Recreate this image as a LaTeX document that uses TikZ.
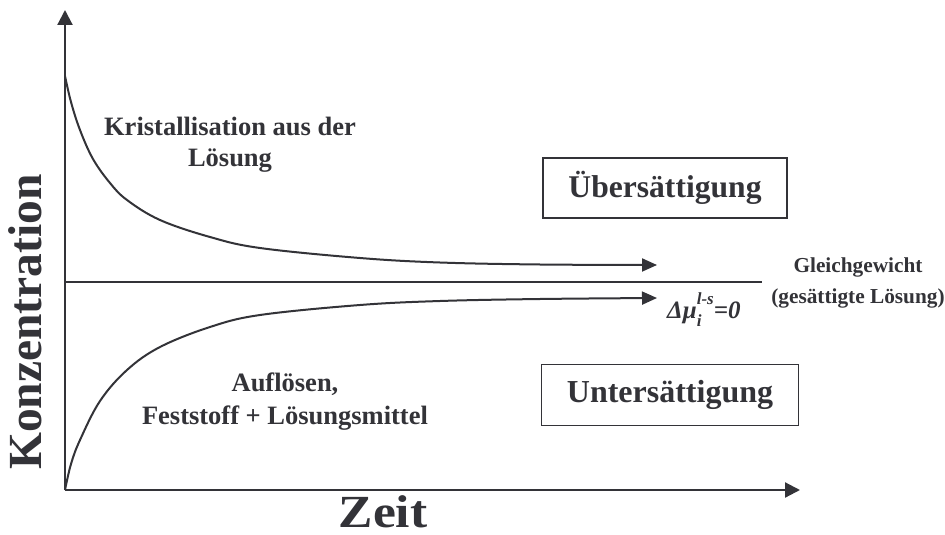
\documentclass[tikz,border=0pt]{standalone}
\usepackage{fontspec}
\setmainfont{Liberation Serif}
\usetikzlibrary{arrows.meta}
\definecolor{ink}{RGB}{51,51,56}
\newcommand{\fsz}[2]{\fontsize{#1}{#2}\selectfont\bfseries}
\begin{document}
\begin{tikzpicture}[x=1pt,y=-1pt,
  every node/.style={text=ink,inner sep=0pt},
  axisline/.style={draw=ink,line width=2.2pt,-{Triangle[length=15pt,width=15pt]}},
  curveline/.style={draw=ink,line width=2pt,-{Triangle[length=15pt,width=13pt]}},
  eqline/.style={draw=ink,line width=1.6pt},
  statebox/.style={draw=ink,line width=1.5pt,inner sep=0pt}]
\useasboundingbox[fill=white] (0,0) rectangle (945,535);
% coordinates
\coordinate (O) at (65,490);
\coordinate (ytip) at (65,10);
\coordinate (xtip) at (800,490);
\coordinate (eqL) at (65,282);
\coordinate (eqR) at (762,282);
% axes
\draw[axisline] (O) -- (ytip);
\draw[axisline] (O) -- (xtip);
% equilibrium line
\draw[eqline] (eqL) -- (eqR);
% upper curve
\draw[curveline] plot[smooth,tension=0.6] coordinates {(65,76) (71,102) (80,130) (93,159) (110,183) (127,200) (160,220) (210,237) (260,248) (360,258) (440,262.5) (540,264.5) (657,265)};
% lower curve
\draw[curveline] plot[smooth,tension=0.6] coordinates {(65,490) (71,464) (80,440) (100,401) (127,370) (160,347) (210,327) (260,315) (360,305) (440,301) (540,299) (657,298)};
% labels
\node[align=center,font=\fsz{26.5}{31}] (kris) at (230,145) {Kristallisation aus der\\Lösung};
\node[align=center,font=\fsz{26.5}{33}] (aufl) at (285,402) {Auflösen,\\Feststoff + Lösungsmittel};
\node[statebox,minimum width=244pt,minimum height=60pt,font=\fsz{31.6}{36}] (ueber) at (665,188) {Übersättigung};
\node[statebox,minimum width=257pt,minimum height=61pt,font=\fsz{32}{36}] (unter) at (670,395) {Untersättigung};
\node[align=center,font=\fsz{21.3}{31}] (gleich) at (858,282.5) {Gleichgewicht\\(gesättigte Lösung)};
\node[anchor=base west,font=\fsz{25}{28}\itshape] (dmu) at (667,318) {Δμ\rlap{\raisebox{-0.32em}{\fontsize{17}{19}\selectfont i}}\raisebox{0.55em}{\fontsize{17}{19}\selectfont l-s}=0};
\node[rotate=90,font=\fsz{47.5}{52}] (konz) at (25,322) {Konzentration};
\node[anchor=base,xscale=1.12,font=\fsz{46}{50}] (zeit) at (383,527) {Zeit};
\end{tikzpicture}
\end{document}
